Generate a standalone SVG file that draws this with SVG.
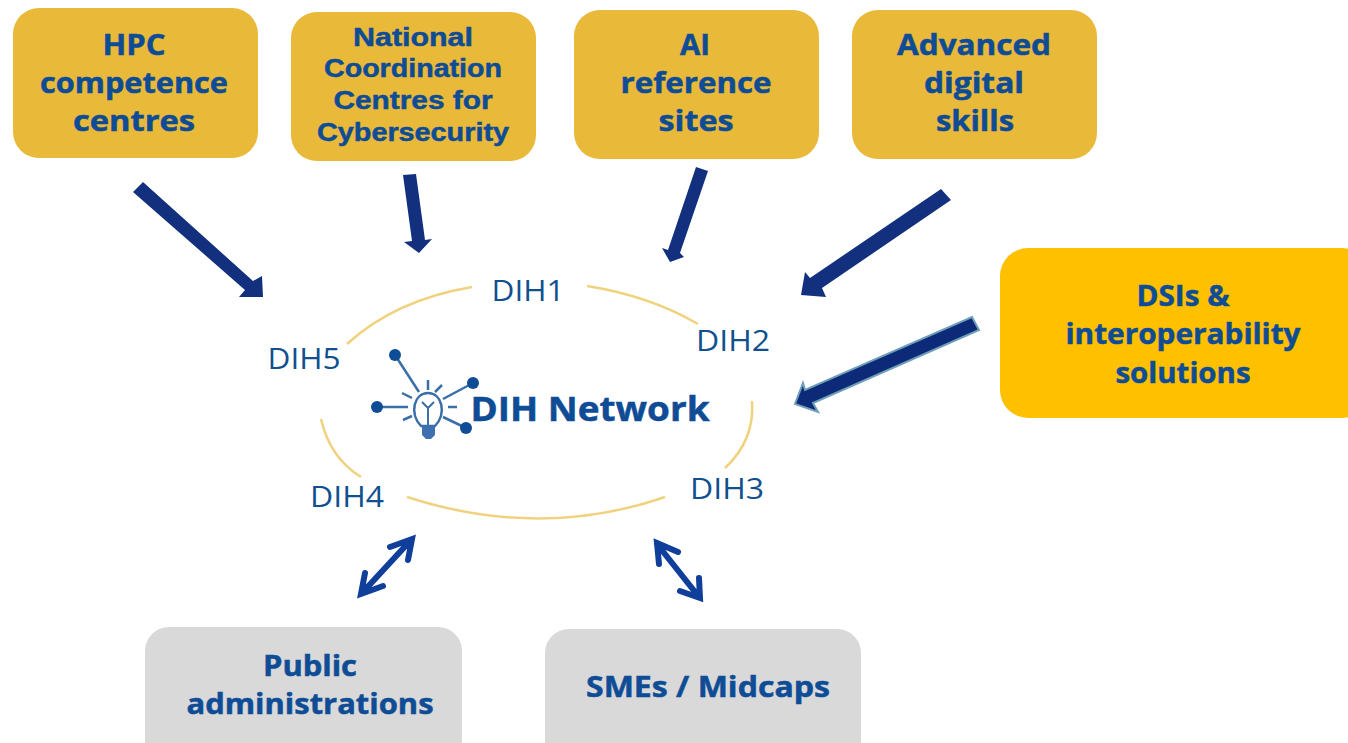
<svg xmlns="http://www.w3.org/2000/svg" width="1348" height="743" viewBox="0 0 1348 743">
<style>
text{font-family:"Open Sans","Liberation Sans",sans-serif;fill:#0f4c96;text-anchor:middle}
.b{font-weight:700;font-size:28px;stroke:#0f4c96;stroke-width:.5}
.s{font-family:"Liberation Sans",sans-serif;font-size:26px;font-weight:700;stroke:#0f4c96;stroke-width:.5}
.d{font-size:30px;fill:#11508f}
.y{fill:#e9b93a}
.o{fill:#ffc000}
.g{fill:#d9d9d9}
.e{fill:none;stroke:#f0d27e;stroke-width:2.5}
.a{fill:#13307e}
.w{fill:none;stroke:#0f3f9a;stroke-width:6;stroke-linecap:round;stroke-linejoin:miter}
.c{stroke:#3a6fa8;stroke-width:2.5;fill:none}
.n{fill:#0f4c96}
</style>
<rect width="1348" height="743" fill="#fff"/>
<g id="hpc"><rect class="y" x="13" y="8" width="245" height="150" rx="26"/><text class="b" x="134" y="55" textLength="63" lengthAdjust="spacingAndGlyphs">HPC</text><text class="b" x="134" y="93" textLength="188" lengthAdjust="spacingAndGlyphs">competence</text><text class="b" x="134" y="131" textLength="122" lengthAdjust="spacingAndGlyphs">centres</text></g>
<g id="ncc"><rect class="y" x="291" y="12" width="245" height="149" rx="26"/><text class="s" x="413" y="46" textLength="120" lengthAdjust="spacingAndGlyphs">National</text><text class="s" x="413" y="77" textLength="178" lengthAdjust="spacingAndGlyphs">Coordination</text><text class="s" x="413" y="109" textLength="159" lengthAdjust="spacingAndGlyphs">Centres for</text><text class="s" x="413" y="141" textLength="192" lengthAdjust="spacingAndGlyphs">Cybersecurity</text></g>
<g id="ai"><rect class="y" x="574" y="10" width="245" height="149" rx="26"/><text class="b" x="695" y="55" textLength="30" lengthAdjust="spacingAndGlyphs">AI</text><text class="b" x="696" y="93" textLength="151" lengthAdjust="spacingAndGlyphs">reference</text><text class="b" x="696" y="131" textLength="75" lengthAdjust="spacingAndGlyphs">sites</text></g>
<g id="skills"><rect class="y" x="852" y="10" width="245" height="149" rx="26"/><text class="b" x="974" y="55" textLength="154" lengthAdjust="spacingAndGlyphs">Advanced</text><text class="b" x="974" y="93" textLength="100" lengthAdjust="spacingAndGlyphs">digital</text><text class="b" x="975" y="131" textLength="78" lengthAdjust="spacingAndGlyphs">skills</text></g>
<g id="dsi"><rect class="o" x="1000" y="248" width="370" height="170" rx="28"/><text class="b" x="1183" y="306" textLength="93" lengthAdjust="spacingAndGlyphs">DSIs &amp;</text><text class="b" x="1183" y="344" textLength="235" lengthAdjust="spacingAndGlyphs">interoperability</text><text class="b" x="1183" y="383" textLength="135" lengthAdjust="spacingAndGlyphs">solutions</text></g>
<g id="pa"><rect class="g" x="145" y="627" width="317" height="140" rx="24"/><text class="b" x="310" y="676" textLength="94" lengthAdjust="spacingAndGlyphs">Public</text><text class="b" x="310" y="714" textLength="247" lengthAdjust="spacingAndGlyphs">administrations</text></g>
<g id="sme"><rect class="g" x="545" y="629" width="316" height="140" rx="24"/><text class="b" x="708" y="697" textLength="244" lengthAdjust="spacingAndGlyphs">SMEs / Midcaps</text></g>
<g id="ring">
<path class="e" d="M347 344Q395 300 472 287"/><path class="e" d="M587 286Q650 296 698 324"/><path class="e" d="M752 401Q755 440 725 468"/><path class="e" d="M407 497Q540 540 665 497"/><path class="e" d="M321 419Q330 458 361 477"/>
</g>
<g id="dih1"><text class="d" x="528" y="301" textLength="73" lengthAdjust="spacingAndGlyphs">DIH1</text></g>
<g id="dih2"><text class="d" x="733" y="351" textLength="74" lengthAdjust="spacingAndGlyphs">DIH2</text></g>
<g id="dih3"><text class="d" x="727" y="499" textLength="74" lengthAdjust="spacingAndGlyphs">DIH3</text></g>
<g id="dih4"><text class="d" x="347" y="507" textLength="74" lengthAdjust="spacingAndGlyphs">DIH4</text></g>
<g id="dih5"><text class="d" x="304" y="369" textLength="73" lengthAdjust="spacingAndGlyphs">DIH5</text></g>
<g id="network">
<path class="c" d="M395 355L419 392M473 383L443 399M377 407H408M466 428L443 417M428 380V390M442 385L435 392M402 393L412 398M403 420L412 416M448 407H457"/>
<circle class="n" cx="395" cy="355" r="6"/><circle class="n" cx="473" cy="383" r="6"/><circle class="n" cx="377" cy="407" r="6"/><circle class="n" cx="466" cy="428" r="6"/>
<path d="M421 426C409 413 414 393 428 393C442 393 447 413 435 426Z" fill="#fff" stroke="#3a6fa8" stroke-width="2.5"/>
<path d="M422 402L428 408L434 402M428 408V425" fill="none" stroke="#3a6fa8" stroke-width="2"/>
<path d="M422 427H435V435L431 439H426L422 435Z" fill="#3f6fb0"/>
<text x="590" y="421" font-size="34" font-weight="700" stroke="#0f4c96" stroke-width=".5" textLength="239" lengthAdjust="spacingAndGlyphs">DIH Network</text>
</g>
<g id="connectors">
<path class="a" d="M143 182L253 281L262 276L263 297L239 297L245 290L133 192Z"/>
<path class="a" d="M403 175L416 174L425 240L432 239L419 253L404 242L412 241Z"/>
<path class="a" d="M696 167L708 171L680 253L684 257L670 262L662 248L668 250Z"/>
<path class="a" d="M941 189L951 200L822 288L826 297L801 295L805 272L810 278Z"/>
<path d="M972 317L979 330L813 403L818 412L795 404L803 383L805 390Z" fill="#0c2a78" stroke="#6f9fb8" stroke-width="2"/>
<path class="w" d="M362 593L411 540M365 573L361 594L383 586M390 547L412 539L408 560"/>
<path class="w" d="M657 544L699 597M678 552L657 543L659 564M699 578L700 598L680 591"/>
</g>
</svg>
